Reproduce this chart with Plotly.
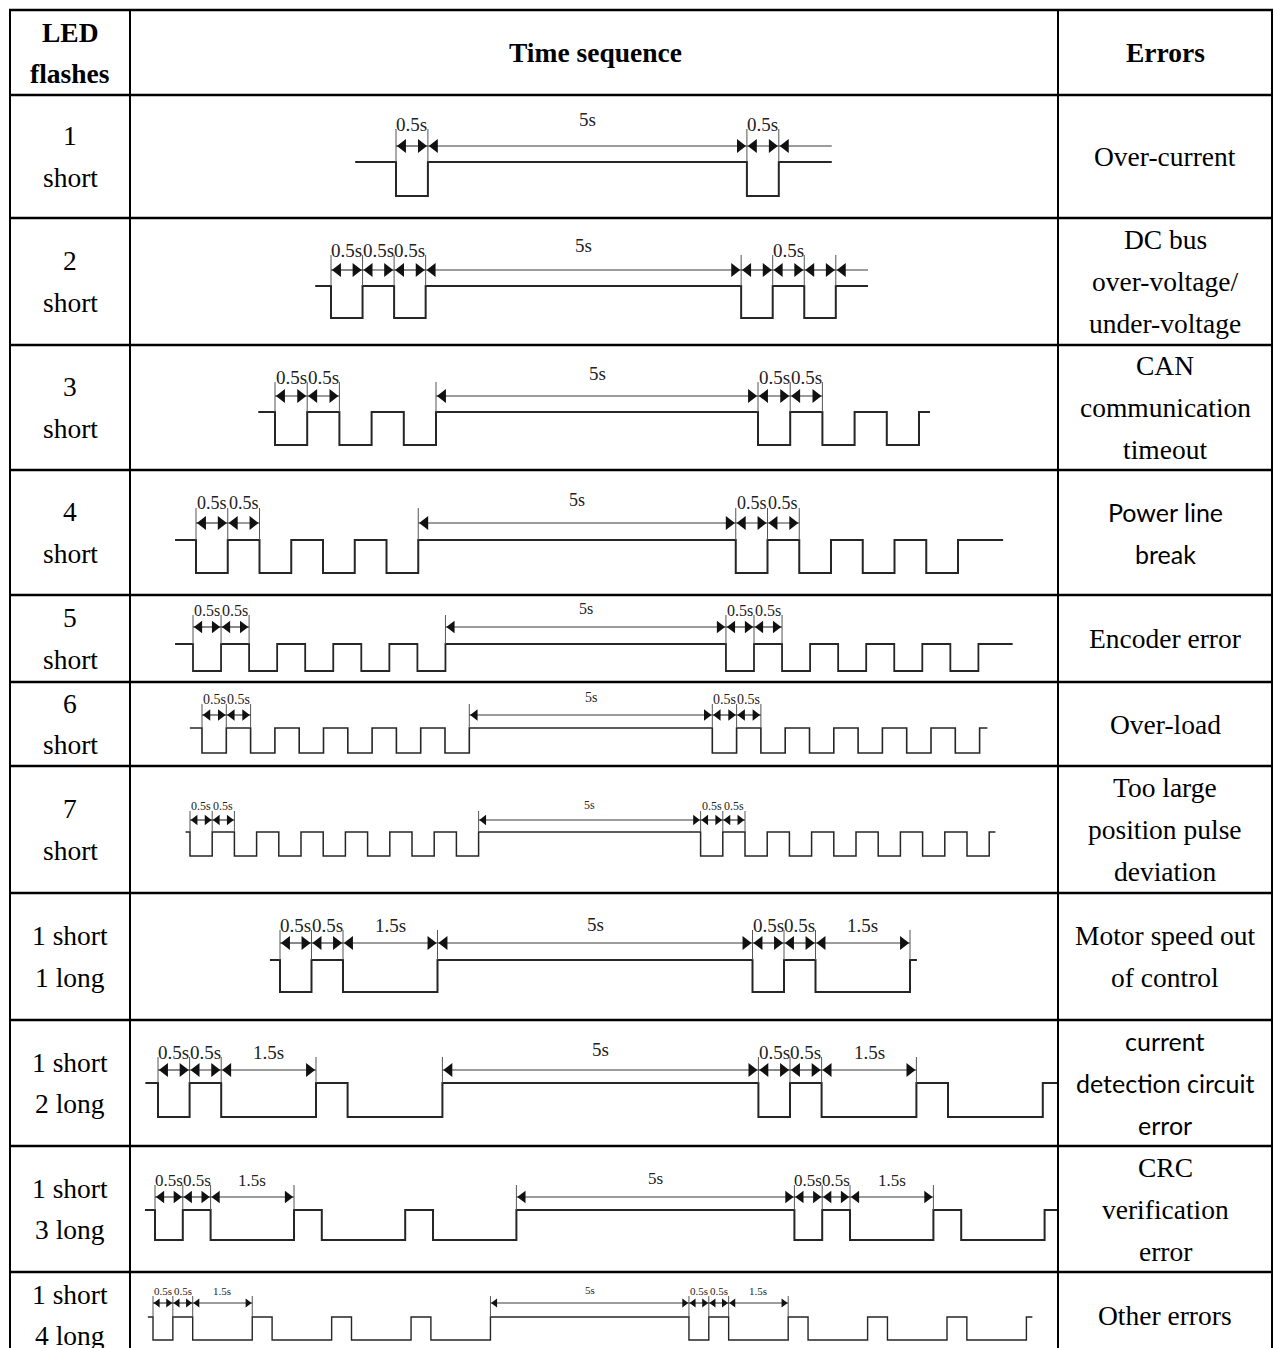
import plotly.graph_objects as go

W, H = 1275, 1348

# ---------------- table text ----------------
header_flash = ["LED", "flashes"]
header_seq = "Time sequence"
header_err = "Errors"

flash_labels = [
    ["1", "short"], ["2", "short"], ["3", "short"], ["4", "short"],
    ["5", "short"], ["6", "short"], ["7", "short"],
    ["1 short", "1 long"], ["1 short", "2 long"], ["1 short", "3 long"],
    ["1 short", "4 long"],
]
error_labels = [
    ["Over-current"],
    ["DC bus", "over-voltage/", "under-voltage"],
    ["CAN", "communication", "timeout"],
    ["Power line", "break"],
    ["Encoder error"],
    ["Over-load"],
    ["Too large", "position pulse", "deviation"],
    ["Motor speed out", "of control"],
    ["current", "detection circuit", "error"],
    ["CRC", "verification", "error"],
    ["Other errors"],
]
error_sans = [False, False, False, True, False, False, False, False, True, False, False]

# ---------------- timing data (seconds; alternating low/high, starting low) ----------------
timing_1s = [0.5, 5, 0.5]
timing_2s = [0.5, 0.5, 0.5, 5, 0.5, 0.5, 0.5]
timing_3s = [0.5, 0.5, 0.5, 0.5, 0.5, 5, 0.5, 0.5, 0.5, 0.5, 0.5]
timing_4s = [0.5, 0.5, 0.5, 0.5, 0.5, 0.5, 0.5, 5, 0.5, 0.5, 0.5, 0.5, 0.5, 0.5, 0.5]
timing_5s = [0.5, 0.5, 0.5, 0.5, 0.5, 0.5, 0.5, 0.5, 0.5, 5,
             0.5, 0.5, 0.5, 0.5, 0.5, 0.5, 0.5, 0.5, 0.5]
timing_6s = [0.5, 0.5, 0.5, 0.5, 0.5, 0.5, 0.5, 0.5, 0.5, 0.5, 0.5, 5,
             0.5, 0.5, 0.5, 0.5, 0.5, 0.5, 0.5, 0.5, 0.5, 0.5, 0.5]
timing_7s = [0.5, 0.5, 0.5, 0.5, 0.5, 0.5, 0.5, 0.5, 0.5, 0.5, 0.5, 0.5, 0.5, 5,
             0.5, 0.5, 0.5, 0.5, 0.5, 0.5, 0.5, 0.5, 0.5, 0.5, 0.5, 0.5, 0.5]
timing_1s1l = [0.5, 0.5, 1.5, 5, 0.5, 0.5, 1.5]
timing_1s2l = [0.5, 0.5, 1.5, 0.5, 1.5, 5, 0.5, 0.5, 1.5, 0.5, 1.5]
# second group is cut off by the cell edge in the source drawing
timing_1s3l = [0.5, 0.5, 1.5, 0.5, 1.5, 0.5, 1.5, 5, 0.5, 0.5, 1.5, 0.5, 1.5]
timing_1s4l = [0.5, 0.5, 1.5, 0.5, 1.5, 0.5, 1.5, 0.5, 1.5, 5,
               0.5, 0.5, 1.5, 0.5, 1.5, 0.5, 1.5, 0.5, 1.5]
timings = [timing_1s, timing_2s, timing_3s, timing_4s, timing_5s, timing_6s, timing_7s,
           timing_1s1l, timing_1s2l, timing_1s3l, timing_1s4l]

# lead-in / lead-out of the high line (seconds)
lead_in = [0.64, 0.25, 0.26, 0.33, 0.32, 0.25, 0.1, 0.16, 0.2, 0.18, 0.13]
lead_out = [0.83, 0.51, 0.17, 0.71, 0.61, 0.16, 0.14, 0.11, 0.24, 0.23, 0.15]

# which segments carry dimension arrows, and which are unlabelled
dim_segments = [
    [0, 1, 2],
    [0, 1, 2, 3, 4, 5, 6],
    [0, 1, 5, 6, 7],
    [0, 1, 7, 8, 9],
    [0, 1, 9, 10, 11],
    [0, 1, 11, 12, 13],
    [0, 1, 13, 14, 15],
    [0, 1, 2, 3, 4, 5, 6],
    [0, 1, 2, 5, 6, 7, 8],
    [0, 1, 2, 7, 8, 9, 10],
    [0, 1, 2, 9, 10, 11, 12],
]
unlabelled = [[], [4, 6], [], [], [], [], [], [], [], [], []]
open_tail = [True, True, False, False, False, False, False, False, False, False, False]

# ---------------- geometry (pixels) ----------------
h_lines = [10, 95, 218, 345, 470, 595, 682, 766, 893, 1020, 1146, 1272]
v_lines = [10, 130, 1058, 1272]
row_top = h_lines[1:]
row_bot = h_lines[2:] + [1358]

t0_px = [396, 331, 275, 196, 193, 202, 190, 280, 158, 155, 153]
px_per_s = [63.8, 63.1, 64.4, 63.5, 56.1, 48.6, 44.4, 63.0, 63.2, 55.6, 39.7]
wave_high = [162, 286, 412, 540, 644, 728, 832, 960, 1083, 1210, 1317]
wave_low = [196, 318, 445, 573, 671, 753, 856, 992, 1117, 1240, 1340]
arrow_px = [146, 270, 396, 523, 627, 715, 820, 943, 1070, 1197, 1303]
label_px = [124, 250, 377, 503, 610, 699, 806, 925, 1052, 1180, 1291]
pause_label_lift = [5, 5, 4, 3, 2, 2, 1, 1, 3, 2, 1]
label_font = [19, 19, 19, 18, 16, 14, 12, 19, 19, 17, 11]
head_size = [12, 12, 12, 12, 11, 10, 9, 12, 12, 11, 8]
wave_width = [2, 2, 2, 2, 1.8, 1.6, 1.5, 2, 2, 2, 1.4]

SERIF = "Liberation Serif, Times New Roman, serif"
SANS = "Lato, Carlito, Calibri, sans-serif"
TXT = 27.5
WAVE_C = "#262626"
DIM_C = "#3a3a3a"

fig = go.Figure()
layout_axes = {}
annotations = []

for i, seq in enumerate(timings):
    k = i + 1
    xn = "x" if k == 1 else f"x{k}"
    yn = "y" if k == 1 else f"y{k}"
    pps = px_per_s[i]
    amp = wave_low[i] - wave_high[i]

    def lev(px, i=i, amp=amp):
        return (wave_low[i] - px) / amp

    layout_axes["xaxis" if k == 1 else f"xaxis{k}"] = dict(
        domain=[0, 1], range=[(0 - t0_px[i]) / pps, (W - t0_px[i]) / pps],
        visible=False, fixedrange=True, anchor=yn)
    layout_axes["yaxis" if k == 1 else f"yaxis{k}"] = dict(
        domain=[0, 1], range=[lev(H), lev(0)],
        visible=False, fixedrange=True, anchor=xn)

    # waveform
    xs = [-lead_in[i], 0, 0]
    ys = [1, 1, 0]
    t = 0.0
    bounds = [0.0]
    for j, d in enumerate(seq):
        lvl = 0 if j % 2 == 0 else 1
        t += d
        bounds.append(t)
        xs += [t, t]
        ys += [lvl, 1 - lvl]
    t_end = t
    xs.append(t_end + lead_out[i])
    ys.append(1)
    fig.add_trace(go.Scatter(x=xs, y=ys, xaxis=xn, yaxis=yn, mode="lines",
                             line=dict(color=WAVE_C, width=wave_width[i]),
                             hoverinfo="skip", showlegend=False))

    # dimension arrows
    ya = lev(arrow_px[i])
    ytop = lev(label_px[i] + 5)
    sz = head_size[i]
    off = 0.577 * sz / pps
    lx, ly = [], []
    mlx, mrx = [], []
    ext = set()
    for s in dim_segments[i]:
        a, b = bounds[s], bounds[s + 1]
        lx += [a, b, None]
        ly += [ya, ya, None]
        mlx.append(a + off)
        mrx.append(b - off)
        ext.add(round(a, 4))
        ext.add(round(b, 4))
        if s not in unlabelled[i]:
            lift = pause_label_lift[i] if seq[s] == 5 else 0
            annotations.append(dict(
                x=(a + b) / 2, y=lev(label_px[i] - lift), xref=xn, yref=yn,
                text=f"{seq[s]:g}s", showarrow=False,
                font=dict(family=SERIF, size=label_font[i], color="#222")))
    if open_tail[i]:
        lx += [t_end, t_end + lead_out[i], None]
        ly += [ya, ya, None]
        mlx.append(t_end + off)
    ex, ey = [], []
    for e in sorted(ext):
        ex += [e, e, None]
        ey += [ytop, 1, None]
    fig.add_trace(go.Scatter(x=ex, y=ey, xaxis=xn, yaxis=yn, mode="lines",
                             line=dict(color="#555", width=1),
                             hoverinfo="skip", showlegend=False))
    fig.add_trace(go.Scatter(x=lx, y=ly, xaxis=xn, yaxis=yn, mode="lines",
                             line=dict(color=DIM_C, width=1.2),
                             hoverinfo="skip", showlegend=False))
    fig.add_trace(go.Scatter(x=mlx, y=[ya] * len(mlx), xaxis=xn, yaxis=yn, mode="markers",
                             marker=dict(symbol="triangle-left", size=sz, color="#111",
                                         line=dict(width=0)),
                             hoverinfo="skip", showlegend=False))
    fig.add_trace(go.Scatter(x=mrx, y=[ya] * len(mrx), xaxis=xn, yaxis=yn, mode="markers",
                             marker=dict(symbol="triangle-right", size=sz, color="#111",
                                         line=dict(width=0)),
                             hoverinfo="skip", showlegend=False))


def py(px):
    return 1 - px / H


def px_x(px):
    return px / W


def add_lines(lines, cx, cy, spacing, family, size, bold=False):
    n = len(lines)
    for j, s in enumerate(lines):
        yy = cy + (j - (n - 1) / 2) * spacing
        annotations.append(dict(
            x=px_x(cx), y=py(yy), xref="paper", yref="paper",
            text=f"<b>{s}</b>" if bold else s, showarrow=False,
            xanchor="center", yanchor="middle",
            font=dict(family=family, size=size, color="black")))


# header
add_lines(header_flash, 70, 52.5, 41, SERIF, TXT, bold=True)
add_lines([header_seq], 595, 52.5, 41, SERIF, TXT, bold=True)
add_lines([header_err], 1165, 52.5, 41, SERIF, TXT, bold=True)

for i in range(len(timings)):
    cy = (row_top[i] + row_bot[i]) / 2
    add_lines(flash_labels[i], 70, cy, 41.5, SERIF, TXT)
    if error_sans[i]:
        add_lines(error_labels[i], 1165, cy, 42, SANS, 25)
    else:
        add_lines(error_labels[i], 1165, cy, 42, SERIF, TXT)

# grid
shapes = []
for y in h_lines:
    shapes.append(dict(type="line", xref="paper", yref="paper",
                       x0=px_x(v_lines[0] - 1), x1=px_x(v_lines[-1] + 1), y0=py(y), y1=py(y),
                       line=dict(color="black", width=2.5)))
for x in v_lines:
    shapes.append(dict(type="line", xref="paper", yref="paper",
                       x0=px_x(x), x1=px_x(x), y0=py(h_lines[0]), y1=py(H + 5),
                       line=dict(color="black", width=2)))

fig.update_layout(
    width=W, height=H, margin=dict(l=0, r=0, t=0, b=0),
    paper_bgcolor="white", plot_bgcolor="rgba(0,0,0,0)",
    showlegend=False, annotations=annotations, shapes=shapes,
    **layout_axes)

fig.write_html(
    "out.html",
    config={"displayModeBar": False},
    post_script="document.body.style.margin='0px';document.body.style.overflow='hidden';",
)
